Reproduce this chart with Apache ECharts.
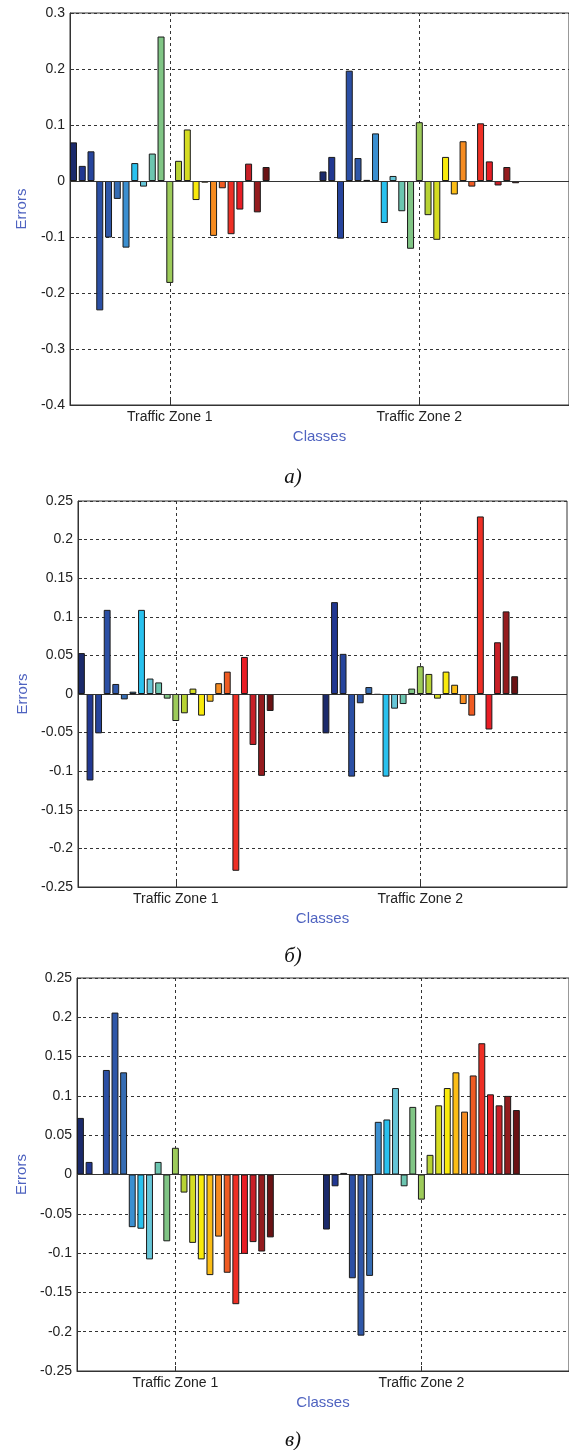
<!DOCTYPE html>
<html>
<head>
<meta charset="utf-8">
<script src="https://cdn.jsdelivr.net/npm/echarts@6/dist/echarts.min.js"></script>
<style>html,body{margin:0;padding:0;background:#fff}#chart{width:569px;height:1450px}</style>
</head>
<body>
<div id="chart"></div>
<script>
// Group (x) tick labels
const categories = ['Traffic Zone 1', 'Traffic Zone 2'];
const categoryPositions = [1, 2];

// Panel а)
const zoneA1 = [0.069, 0.027, 0.053, -0.231, -0.101, -0.032, -0.119, 0.032, -0.010, 0.049, 0.258, -0.182, 0.036, 0.092, -0.034, -0.003, -0.098, -0.013, -0.095, -0.051, 0.031, -0.056, 0.025];
const zoneA2 = [0.017, 0.043, -0.103, 0.197, 0.041, 0.002, 0.085, -0.075, 0.009, -0.054, -0.121, 0.105, -0.061, -0.105, 0.043, -0.024, 0.071, -0.010, 0.103, 0.035, -0.008, 0.025, -0.004];
// Panel б)
const zoneB1 = [0.053, -0.112, -0.051, 0.109, 0.013, -0.007, 0.003, 0.109, 0.020, 0.015, -0.006, -0.035, -0.025, 0.007, -0.028, -0.010, 0.014, 0.029, -0.229, 0.048, -0.066, -0.106, -0.022];
const zoneB2 = [-0.051, 0.119, 0.052, -0.107, -0.012, 0.009, -0.001, -0.107, -0.019, -0.013, 0.007, 0.036, 0.026, -0.006, 0.029, 0.012, -0.013, -0.028, 0.230, -0.046, 0.067, 0.107, 0.023];
// Panel в)
const zoneC1 = [0.072, 0.016, 0.000, 0.133, 0.206, 0.130, -0.067, -0.069, -0.108, 0.016, -0.085, 0.034, -0.023, -0.087, -0.108, -0.128, -0.079, -0.125, -0.165, -0.101, -0.086, -0.098, -0.080];
const zoneC2 = [-0.070, -0.015, 0.002, -0.132, -0.205, -0.129, 0.067, 0.070, 0.110, -0.015, 0.086, -0.032, 0.025, 0.088, 0.110, 0.130, 0.080, 0.126, 0.167, 0.102, 0.088, 0.100, 0.082];

// Y ranges per panel
const yMin = [-0.4, -0.25, -0.25];
const yMax = [0.3, 0.25, 0.25];
const yStep = [0.1, 0.05, 0.05];

const captions = ['а)', 'б)', 'в)'];

const colors = ['#1b2a6b', '#213791', '#26449c', '#2b4fa4', '#2f57a8', '#356cb3', '#3b8fd0', '#29c1ee',
  '#66c6d8', '#6cc5b0', '#80c585', '#9dcb5a', '#b7d233', '#d5dc22', '#f9ea0c', '#fbbd16',
  '#f58b20', '#ef5b23', '#ee2f25', '#e81d25', '#c81f27', '#941b1e', '#6a1214'];

const panels = [
  { z1: zoneA1, z2: zoneA2, grid: { left: 70, top: 13, width: 499, height: 392 }, nameGapY: 41, cap: [293, 477] },
  { z1: zoneB1, z2: zoneB2, grid: { left: 78, top: 501, width: 489, height: 386 }, nameGapY: 48, cap: [293, 956] },
  { z1: zoneC1, z2: zoneC2, grid: { left: 77, top: 978, width: 492, height: 393 }, nameGapY: 48, cap: [293, 1440] }
];

const FONT = 'Liberation Sans, Arial, sans-serif';
const nameColor = '#4f63c0';
const grids = [], xAxes = [], yAxes = [], series = [], graphics = [];

panels.forEach((p, pi) => {
  grids.push(Object.assign({ show: true, borderColor: '#333', borderWidth: 1, backgroundColor: '#fff', outerBoundsMode: 'none' }, p.grid));
  xAxes.push({
    type: 'value', gridIndex: pi, min: 0.6, max: 2.6,
    name: 'Classes', nameLocation: 'middle', nameGap: 24,
    nameTextStyle: { color: nameColor, fontSize: 15, fontFamily: FONT },
    axisLine: { onZero: false, lineStyle: { color: '#333' } },
    axisTick: { show: true, inside: true, length: 5, customValues: categoryPositions, lineStyle: { color: '#333' } },
    axisLabel: { customValues: categoryPositions, formatter: v => categories[Math.round(v) - 1], color: '#222', fontSize: 14, fontFamily: FONT, margin: 5 },
    splitLine: { show: true, lineStyle: { color: '#333', type: [3, 3], width: 1 } }
  });
  yAxes.push({
    type: 'value', gridIndex: pi, min: yMin[pi], max: yMax[pi], interval: yStep[pi],
    name: 'Errors', nameLocation: 'middle', nameRotate: 90, nameGap: p.nameGapY,
    nameTextStyle: { color: nameColor, fontSize: 15, fontFamily: FONT },
    axisLine: { show: true, lineStyle: { color: '#333' } },
    axisTick: { show: true, inside: true, length: 4, lineStyle: { color: '#333' } },
    axisLabel: { color: '#222', fontSize: 14, fontFamily: FONT, margin: 5 },
    splitLine: { show: true, lineStyle: { color: '#333', type: [3, 3], width: 1 } }
  });
  for (let k = 0; k < colors.length; k++) {
    const s = {
      type: 'bar', name: 'Class ' + (k + 1), xAxisIndex: pi, yAxisIndex: pi,
      data: [[categoryPositions[0], p.z1[k]], [categoryPositions[1], p.z2[k]]],
      barGap: '25%', barCategoryGap: '20%',
      itemStyle: { color: colors[k], borderColor: '#1a1a1a', borderWidth: 1 },
      silent: true, animation: false
    };
    if (k === 0) {
      s.markLine = {
        silent: true, symbol: 'none', animation: false, label: { show: false },
        data: [{ yAxis: 0, lineStyle: { color: '#333', type: 'solid', width: 1 } }]
      };
    }
    series.push(s);
  }
  graphics.push({
    type: 'text', x: p.cap[0], y: p.cap[1],
    style: { text: captions[pi], font: 'italic 21px "Liberation Serif", "Times New Roman", serif', fill: '#111', textAlign: 'center', textVerticalAlign: 'middle' }
  });
});

const chart = echarts.init(document.getElementById('chart'), null, { renderer: 'canvas' });
chart.setOption({
  animation: false,
  backgroundColor: '#fff',
  grid: grids, xAxis: xAxes, yAxis: yAxes, series: series,
  graphic: graphics
});
</script>
</body>
</html>
